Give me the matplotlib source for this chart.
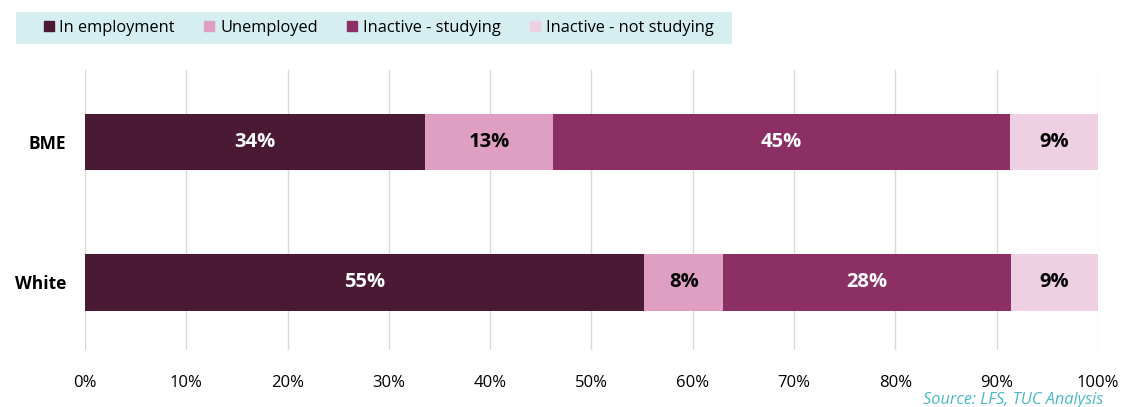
import matplotlib
matplotlib.use("Agg")
import matplotlib.pyplot as plt
from matplotlib.lines import Line2D
from matplotlib.patches import Rectangle
from matplotlib.ticker import FuncFormatter, MultipleLocator

plt.rcParams['font.family'] = ['Open Sans', 'DejaVu Sans']

groups = ["BME", "White"]
series_names = ["In employment", "Unemployed", "Inactive - studying", "Inactive - not studying"]
in_employment = [33.6, 55.2]
unemployed = [12.6, 7.8]
inactive_studying = [45.1, 28.4]
inactive_not_studying = [8.7, 8.6]

colors = ["#4a1a35", "#df9fc3", "#8c2f65", "#efd0e2"]
label_colors = ["white", "black", "white", "black"]

W, H = 1121, 407
fig = plt.figure(figsize=(W / 100, H / 100), dpi=100)
ax = fig.add_axes([85 / W, 1 - 350 / H, (1098 - 85) / W, (350 - 70) / H])

series = [in_employment, unemployed, inactive_studying, inactive_not_studying]
ypos = list(range(len(groups)))
left = [0.0] * len(groups)
for vals, col, tcol in zip(series, colors, label_colors):
    bars = ax.barh(ypos, vals, left=left, height=0.4, color=col, zorder=3)
    for b, v in zip(bars, vals):
        ax.text(b.get_x() + b.get_width() / 2, b.get_y() + b.get_height() / 2,
                f"{v:.0f}%", ha="center", va="center", color=tcol,
                fontsize=14.5, fontweight="bold", zorder=4)
    left = [l + v for l, v in zip(left, vals)]

ax.set_xlim(0, 100)
ax.set_ylim(1.48, -0.51)
ax.set_yticks(ypos)
ax.set_yticklabels(groups, fontsize=12.5, fontweight="bold")
ax.xaxis.set_major_locator(MultipleLocator(10))
ax.xaxis.set_major_formatter(FuncFormatter(lambda x, _: f"{x:.0f}%"))
ax.tick_params(axis="x", labelsize=12, length=0, pad=18)
ax.tick_params(axis="y", length=0, pad=13.5)
ax.grid(axis="x", color="#d9d9d9", linewidth=1, zorder=0)
for s in ax.spines.values():
    s.set_visible(False)

# legend background band
fig.patches.append(Rectangle((16 / W, 1 - 43.5 / H), (732 - 16) / W, 31.5 / H,
                             transform=fig.transFigure, facecolor="#d5eff0",
                             edgecolor="none", zorder=0))

handles = [Line2D([0], [0], marker="s", linestyle="none", markersize=7.5,
                  markerfacecolor=c, markeredgecolor=c) for c in colors]
leg = fig.legend(handles, series_names, loc="center left",
                 bbox_to_anchor=(43 / W, 1 - 27.5 / H), ncol=4,
                 frameon=False, fontsize=11.8, handlelength=0.7,
                 handletextpad=0.3, columnspacing=1.75, borderpad=0,
                 borderaxespad=0)

fig.text(1103 / W, 1 - 404 / H, "Source: LFS, TUC Analysis", ha="right",
         va="baseline", fontsize=11.8, style="italic", color="#4bb8c4")

fig.savefig("out.png", dpi=100)
